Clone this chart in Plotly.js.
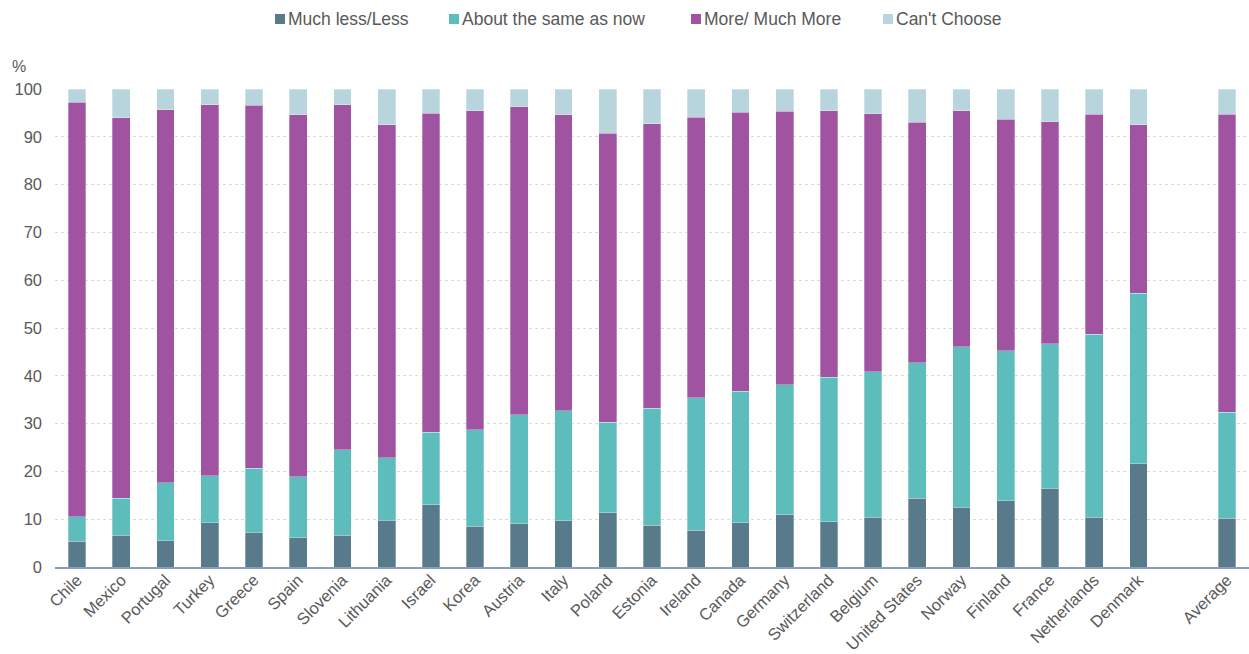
<!DOCTYPE html>
<html>
<head>
<meta charset="utf-8">
<script src="https://cdn.plot.ly/plotly-3.0.1.min.js"></script>
<style>html,body{margin:0;padding:0;background:#fff;}#chart{width:1249px;height:654px;}</style>
</head>
<body>
<div id="chart"></div>
<script>
const categories = ["Chile","Mexico","Portugal","Turkey","Greece","Spain","Slovenia","Lithuania","Israel","Korea","Austria","Italy","Poland","Estonia","Ireland","Canada","Germany","Switzerland","Belgium","United States","Norway","Finland","France","Netherlands","Denmark"," ","Average"];
const lessVals =  [5.4,6.6,5.5,9.3,7.3,6.1,6.6,9.8,13.0,8.5,9.1,9.7,11.4,8.7,7.7,9.3,10.9,9.5,10.4,14.4,12.5,13.9,16.5,10.4,21.6,null,10.2];
const sameVals =  [5.1,7.8,12.1,9.8,13.4,12.8,17.9,13.1,15.2,20.2,22.8,23.0,18.9,24.5,27.7,27.5,27.2,30.2,30.5,28.3,33.6,31.3,30.2,38.3,35.7,null,22.2];
const moreVals =  [86.7,79.6,78.1,77.6,75.9,75.7,72.2,69.6,66.7,66.7,64.4,61.9,60.4,59.5,58.7,58.3,57.2,55.7,53.9,50.3,49.3,48.5,46.5,46.0,35.2,null,62.3];
const cantVals =  [2.8,6.0,4.3,3.3,3.4,5.4,3.3,7.5,5.1,4.6,3.7,5.4,9.3,7.3,5.9,4.9,4.7,4.6,5.2,7.0,4.6,6.3,6.8,5.3,7.5,null,5.3];
const seriesNames = ["Much less/Less","About the same as now","More/ Much More","Can't Choose"];
const seriesColors = ["#587a8a","#5dbdbd","#a053a0","#b8d4dc"];
const yTicks = [0,10,20,30,40,50,60,70,80,90,100];

const W = 1249, H = 654;
const M = {l:55, r:0, t:89, b:87};
const PW = W - M.l - M.r, PH = H - M.t - M.b;
const px2x = p => (p - M.l) / PW;
const py2y = p => (H - M.b - p) / PH;

const allVals = [lessVals, sameVals, moreVals, cantVals];
const traces = allVals.map((v,i)=>({
  type:'bar', x:categories, y:v, name:seriesNames[i],
  marker:{color:seriesColors[i], line:{color:'rgba(255,255,255,0.6)', width:0.5}},
  hoverinfo:'x+y+name'
}));

// custom legend (compact symbol-to-text spacing)
const legendX = [275, 449, 691, 883];
const legendY = 19;
const shapes = [], annotations = [];
seriesNames.forEach((n,i)=>{
  shapes.push({type:'rect', xref:'paper', yref:'paper',
    x0:px2x(legendX[i]), x1:px2x(legendX[i]+10), y0:py2y(legendY+5), y1:py2y(legendY-5),
    fillcolor:seriesColors[i], line:{width:0}});
  annotations.push({text:n, xref:'paper', yref:'paper', x:px2x(legendX[i]+11), y:py2y(legendY),
    xanchor:'left', yanchor:'middle', showarrow:false, font:{size:17.5, color:'#595959'}});
});
annotations.push({text:'%', xref:'paper', yref:'paper', x:px2x(19), y:py2y(66), xanchor:'center', yanchor:'middle',
                showarrow:false, font:{size:16, color:'#595959'}});

const layout = {
  width:W, height:H,
  barmode:'stack', bargap:0.6,
  margin:Object.assign({autoexpand:false}, M),
  paper_bgcolor:'#fff', plot_bgcolor:'#fff',
  font:{family:'"Liberation Sans", Arial, sans-serif', size:17, color:'#595959'},
  showlegend:false,
  xaxis:{type:'category', tickangle:-45, showgrid:false, ticks:'', showline:true,
         linecolor:'#8a9fb2', linewidth:2, tickfont:{size:16.5, color:'#595959'}, ticklabelstandoff:-5},
  yaxis:{range:[0,100], tickvals:yTicks, showgrid:true, gridcolor:'#d9d9d9', griddash:'dot',
         gridwidth:1, zeroline:false, showline:false, ticks:'', tickfont:{size:16.5, color:'#595959'},
         ticklabelstandoff:12},
  shapes:shapes,
  annotations:annotations
};
Plotly.newPlot('chart', traces, layout, {displayModeBar:false, staticPlot:true});
</script>
</body>
</html>
